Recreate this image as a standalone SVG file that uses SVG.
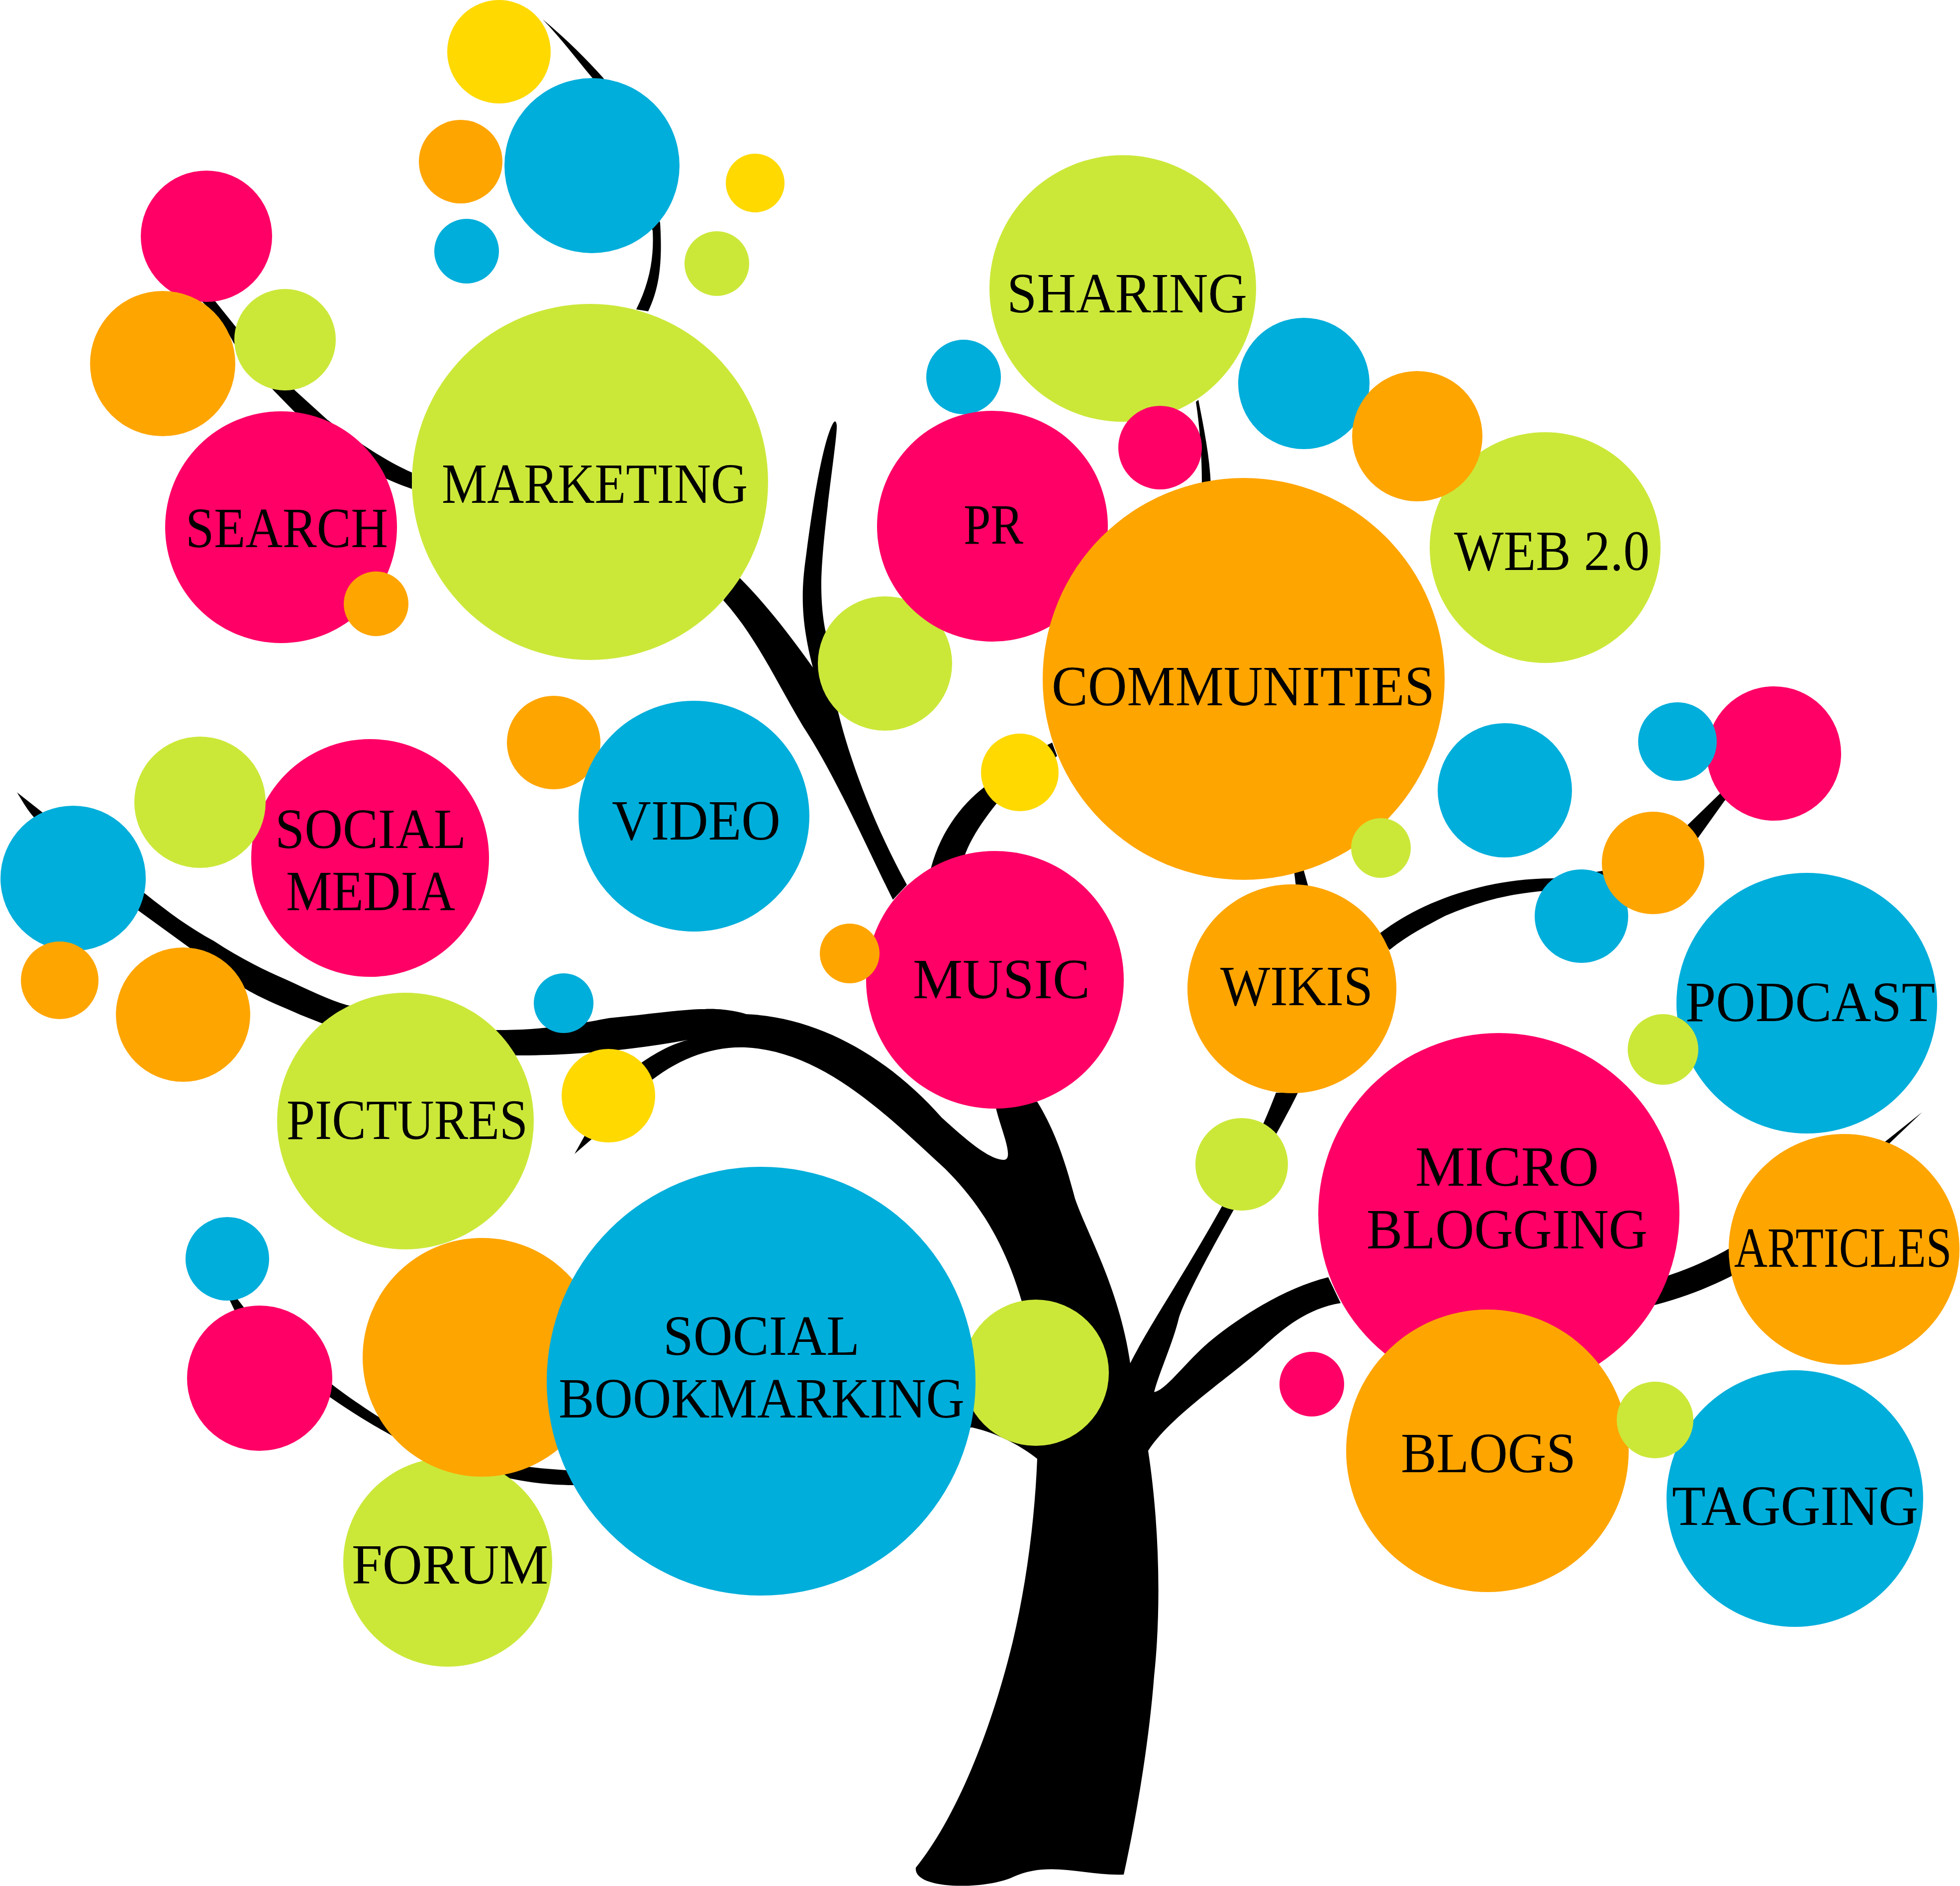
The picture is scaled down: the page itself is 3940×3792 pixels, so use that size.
<svg xmlns="http://www.w3.org/2000/svg" width="3940" height="3792" viewBox="0 0 3940 3792">
<style>
.g{fill:#cbe839}.b{fill:#00aedb}.p{fill:#ff0066}.o{fill:#ffa500}.y{fill:#ffd900}
text{font-family:"Liberation Serif","DejaVu Serif",serif;font-size:114px;fill:#000;text-anchor:start}
</style>
<rect width="3940" height="3792" fill="#fff"/>
<g id="connectors" fill="#000">
<path d="M1841 3755C1910 3670 1985 3510 2036 3300C2062 3190 2080 3060 2085 2933C2050 2905 2000 2880 1954 2870L1954 2830L2054 2617C2020 2500 1970 2420 1900 2350C1790 2250 1660 2115 1500 2106C1430 2103 1360 2130 1300 2180L1191 2289L1155 2320L1175 2284L1250 2165C1290 2136 1330 2105 1382 2091C1250 2115 1130 2122 1038 2122L995 2071C1100 2072 1180 2055 1224 2047C1300 2040 1370 2029 1416 2029C1440 2027 1480 2032 1500 2039C1650 2045 1790 2130 1893 2247C1930 2280 1985 2332 2018 2332C2040 2332 2012 2270 2002 2228L2085 2215C2125 2280 2145 2350 2161 2410C2185 2480 2250 2590 2272 2741C2330 2625 2480 2420 2565 2197L2609 2197C2560 2300 2400 2560 2370 2649C2358 2700 2330 2760 2320 2799C2345 2795 2390 2730 2437 2693C2490 2650 2580 2590 2670 2568L2695 2620C2620 2632 2570 2680 2527 2719C2470 2770 2350 2850 2308 2917C2330 3060 2335 3230 2320 3370C2310 3500 2285 3650 2259 3769C2180 3772 2110 3740 2036 3774C1980 3800 1835 3800 1841 3755Z"/>
<path d="M1487 1162C1540 1215 1590 1280 1634 1342C1610 1250 1610 1190 1620 1120C1635 1000 1655 890 1673 854Q1680 840 1682 855C1684 880 1651 1080 1651 1177C1651 1215 1655 1250 1660 1271C1665 1400 1720 1590 1823 1779L1795 1809C1750 1720 1680 1560 1614 1460C1560 1370 1520 1280 1454 1207Z"/>
<path d="M34 1593L86 1634L292 1797C340 1835 380 1865 430 1892C480 1925 530 1950 574 1969C620 1990 660 2010 698 2021L995 2071L1038 2122C900 2125 770 2090 646 2057L603 2040C570 2025 530 2010 493 1988C450 1960 415 1930 383 1907L277 1830L86 1660C60 1640 45 1610 34 1593Z"/>
<path d="M650 2770C700 2810 740 2835 775 2858C850 2900 950 2945 1138 2956L1500 2950L1954 2840L1954 2870C1700 2900 1400 3000 1153 2986C1050 2985 1000 2965 900 2945C860 2930 820 2905 780 2882C740 2860 700 2835 650 2800Z"/>
<path d="M455 2600L476 2610L495 2635L474 2640Z"/>
<path d="M1091 39C1140 80 1180 120 1213 157L1327 448C1332 530 1325 580 1303 626L1279 622C1305 570 1315 520 1312 464L1191 157C1160 120 1130 80 1091 39Z"/>
<path d="M420 590L473 656L593 785L658 844C700 875 770 925 828 950L828 983C790 970 760 955 740 945L591 827L550 785L470 690C450 650 430 630 405 605Z"/>
<path d="M1868 1760C1885 1680 1930 1620 1978 1583L2105 1498L2115 1493L2125 1520L2003 1616C1960 1670 1930 1720 1930 1770Z"/>
<path d="M2404 808L2409 804C2420 860 2432 920 2434 975L2416 975C2416 917 2412 860 2404 808Z"/>
<path d="M2600 1740L2618 1740L2632 1790L2606 1790Z"/>
<path d="M2773 1877C2860 1810 2990 1766 3122 1766L3215 1752C3290 1740 3360 1690 3387 1664L3456 1597L3500 1553L3510 1565L3466 1611L3411 1688C3350 1740 3250 1780 3107 1791C3050 1796 2990 1805 2906 1841C2870 1860 2830 1880 2793 1910Z"/>
<path d="M3300 2580C3400 2555 3500 2510 3600 2420L3790 2295L3864 2236L3800 2297L3650 2450C3560 2530 3440 2600 3300 2630Z"/>
</g>
<g id="n1"><circle class="y" cx="1003" cy="104" r="104"/></g>
<g id="n2"><circle class="b" cx="1190" cy="333" r="176"/></g>
<g id="n3"><circle class="o" cx="926" cy="325" r="84"/></g>
<g id="n4"><circle class="b" cx="938" cy="505" r="65"/></g>
<g id="n5"><circle class="y" cx="1518" cy="368" r="59"/></g>
<g id="n6"><circle class="g" cx="1441" cy="530" r="65"/></g>
<g id="n7"><circle class="p" cx="415" cy="475" r="132"/></g>
<g id="n8"><circle class="o" cx="327" cy="731" r="146"/></g>
<g id="n9"><circle class="g" cx="573" cy="683" r="102"/></g>
<g id="search"><circle class="p" cx="565" cy="1060" r="233"/><text x="373" y="1100" textLength="407" lengthAdjust="spacingAndGlyphs">SEARCH</text></g>
<g id="n10"><circle class="o" cx="756" cy="1214" r="65"/></g>
<g id="marketing"><circle class="g" cx="1186" cy="969" r="358"/><text x="888" y="1011" textLength="615" lengthAdjust="spacingAndGlyphs">MARKETING</text></g>
<g id="n11"><circle class="g" cx="1779" cy="1334" r="135"/></g>
<g id="n12"><circle class="b" cx="1937" cy="758" r="75"/></g>
<g id="pr"><circle class="p" cx="1995" cy="1058" r="232"/><text x="1937" y="1093" textLength="120" lengthAdjust="spacingAndGlyphs">PR</text></g>
<g id="sharing"><circle class="g" cx="2257" cy="580" r="268"/><text x="2024" y="628" textLength="483" lengthAdjust="spacingAndGlyphs">SHARING</text></g>
<g id="n13"><circle class="p" cx="2332" cy="900" r="84"/></g>
<g id="n14"><circle class="b" cx="2621" cy="771" r="132"/></g>
<g id="web"><circle class="g" cx="3106" cy="1101" r="232"/><text x="2923" y="1146" textLength="393" lengthAdjust="spacingAndGlyphs">WEB 2.0</text></g>
<g id="n15"><circle class="o" cx="2849" cy="877" r="131"/></g>
<g id="communities"><circle class="o" cx="2500" cy="1365" r="404"/><text x="2114" y="1418" textLength="770" lengthAdjust="spacingAndGlyphs">COMMUNITIES</text></g>
<g id="n16"><circle class="y" cx="2050" cy="1553" r="78"/></g>
<g id="n17"><circle class="o" cx="1113" cy="1493" r="94"/></g>
<g id="video"><circle class="b" cx="1395" cy="1641" r="232"/><text x="1230" y="1688" textLength="339" lengthAdjust="spacingAndGlyphs">VIDEO</text></g>
<g id="n18"><circle class="g" cx="2776" cy="1705" r="60"/></g>
<g id="n19"><circle class="b" cx="3025" cy="1589" r="135"/></g>
<g id="n20"><circle class="p" cx="3566" cy="1515" r="135"/></g>
<g id="n21"><circle class="b" cx="3372" cy="1491" r="79"/></g>
<g id="n22"><circle class="b" cx="3179" cy="1842" r="94"/></g>
<g id="n23"><circle class="o" cx="3323" cy="1735" r="103"/></g>
<g id="podcast"><circle class="b" cx="3632" cy="2017" r="262"/><text x="3388" y="2053" textLength="502" lengthAdjust="spacingAndGlyphs">PODCAST</text></g>
<g id="n24"><circle class="g" cx="3343" cy="2110" r="71"/></g>
<g id="n25"><circle class="b" cx="147" cy="1766" r="146"/></g>
<g id="socialmedia"><circle class="p" cx="744" cy="1725" r="239"/><text x="553" y="1705" textLength="384" lengthAdjust="spacingAndGlyphs">SOCIAL</text><text x="575" y="1830" textLength="340" lengthAdjust="spacingAndGlyphs">MEDIA</text></g>
<g id="n27"><circle class="g" cx="402" cy="1613" r="132"/></g>
<g id="n28"><circle class="o" cx="120" cy="1971" r="78"/></g>
<g id="n29"><circle class="o" cx="368" cy="2040" r="135"/></g>
<g id="pictures"><circle class="g" cx="815" cy="2254" r="258"/><text x="576" y="2290" textLength="485" lengthAdjust="spacingAndGlyphs">PICTURES</text></g>
<g id="n30"><circle class="b" cx="1133" cy="2017" r="60"/></g>
<g id="n31"><circle class="y" cx="1223" cy="2203" r="94"/></g>
<g id="music"><circle class="p" cx="2000" cy="1970" r="259"/><text x="1835" y="2007" textLength="356" lengthAdjust="spacingAndGlyphs">MUSIC</text></g>
<g id="n32"><circle class="o" cx="1708" cy="1917" r="60"/></g>
<g id="wikis"><circle class="o" cx="2597" cy="1988" r="210"/><text x="2453" y="2021" textLength="307" lengthAdjust="spacingAndGlyphs">WIKIS</text></g>
<g id="n33"><circle class="g" cx="2496" cy="2341" r="93"/></g>
<g id="n34"><circle class="b" cx="457" cy="2531" r="84"/></g>
<g id="n35"><circle class="p" cx="522" cy="2771" r="146"/></g>
<g id="forum"><circle class="g" cx="900" cy="3141" r="210"/><text x="707" y="3184" textLength="395" lengthAdjust="spacingAndGlyphs">FORUM</text></g>
<g id="n36"><circle class="o" cx="969" cy="2729" r="240"/></g>
<g id="n37"><circle class="g" cx="2082" cy="2760" r="147"/></g>
<g id="bookmarking"><circle class="b" cx="1530" cy="2777" r="431"/><text x="1333" y="2724" textLength="395" lengthAdjust="spacingAndGlyphs">SOCIAL</text><text x="1123" y="2850" textLength="816" lengthAdjust="spacingAndGlyphs">BOOKMARKING</text></g>
<g id="micro"><circle class="p" cx="3013" cy="2440" r="363"/><text x="2845" y="2384" textLength="369" lengthAdjust="spacingAndGlyphs">MICRO</text><text x="2747" y="2510" textLength="565" lengthAdjust="spacingAndGlyphs">BLOGGING</text></g>
<g id="articles"><circle class="o" cx="3707" cy="2512" r="232"/><text transform="translate(3486 2547) scale(.813 1)">ARTICLES</text></g>
<g id="n38"><circle class="p" cx="2637" cy="2783" r="65"/></g>
<g id="blogs"><circle class="o" cx="2990" cy="2917" r="284"/><text x="2816" y="2960" textLength="352" lengthAdjust="spacingAndGlyphs">BLOGS</text></g>
<g id="tagging"><circle class="b" cx="3608" cy="3013" r="258"/><text x="3361" y="3066" textLength="495" lengthAdjust="spacingAndGlyphs">TAGGING</text></g>
<g id="n39"><circle class="g" cx="3327" cy="2855" r="77"/></g>
</svg>
